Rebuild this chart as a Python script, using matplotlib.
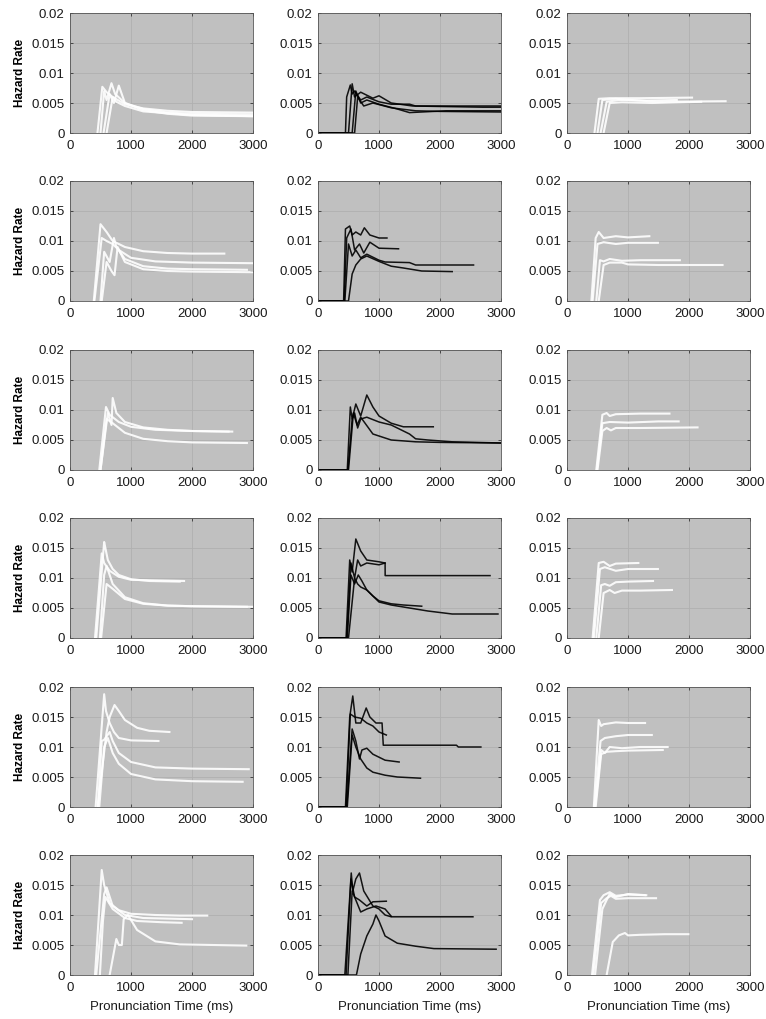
import numpy as np
import matplotlib.pyplot as plt
from matplotlib.ticker import FuncFormatter

plt.rcParams['font.family'] = ['Liberation Sans', 'DejaVu Sans']

# Each panel: list of curves (x in ms, hazard rate)
r1c1 = [
    ([450, 530, 600, 700, 900, 1200, 1600, 2000, 3000], [0, 0.0077, 0.0068, 0.0060, 0.0048, 0.0041, 0.0037, 0.0035, 0.0034]),
    ([500, 560, 600, 680, 740, 900, 1200, 1600, 2000, 3000], [0, 0.0070, 0.0055, 0.0083, 0.0065, 0.0050, 0.0040, 0.0034, 0.0032, 0.0031]),
    ([550, 650, 720, 800, 900, 1200, 1600, 2000, 3000], [0, 0.0065, 0.0050, 0.0079, 0.0050, 0.0038, 0.0032, 0.0029, 0.0028]),
    ([600, 700, 760, 900, 1200, 2000, 3000], [0, 0.0060, 0.0052, 0.0045, 0.0036, 0.0030, 0.0028]),
]
r1c2 = [
    ([0, 450, 470, 530, 560, 600, 700, 800, 1000, 1200, 1500, 1600, 2200, 3000], [0, 0, 0.006, 0.008, 0.0065, 0.0070, 0.0055, 0.0060, 0.0052, 0.0048, 0.0048, 0.0045, 0.0045, 0.0045]),
    ([0, 500, 560, 600, 700, 900, 1000, 1200, 1550, 2700, 3000], [0, 0, 0.0082, 0.0060, 0.0068, 0.0058, 0.0062, 0.0050, 0.0045, 0.0043, 0.0043]),
    ([0, 560, 620, 700, 800, 1000, 1300, 1500, 2100, 3000], [0, 0, 0.0070, 0.0050, 0.0055, 0.0048, 0.0040, 0.0034, 0.0037, 0.0037]),
    ([0, 600, 650, 750, 900, 1200, 1600, 2000, 3000], [0, 0, 0.0060, 0.0045, 0.0050, 0.0042, 0.0037, 0.0036, 0.0035]),
]
r1c3 = [
    ([450, 520, 700, 1200, 2050], [0, 0.0057, 0.0058, 0.0058, 0.0059]),
    ([500, 580, 800, 1200, 1500, 2600], [0, 0.0055, 0.0057, 0.0054, 0.0052, 0.0053]),
    ([550, 650, 850, 1300, 1800], [0, 0.0052, 0.0055, 0.0054, 0.0055]),
    ([600, 700, 900, 1400, 2200], [0, 0.0050, 0.0051, 0.0050, 0.0052]),
]
r2c1 = [
    ([390, 500, 600, 700, 900, 1200, 1600, 2000, 2530], [0, 0.0128, 0.0115, 0.0100, 0.0090, 0.0083, 0.0080, 0.0079, 0.0079]),
    ([400, 520, 600, 700, 800, 1000, 1400, 2000, 3000], [0, 0.0105, 0.0100, 0.0095, 0.0085, 0.0072, 0.0066, 0.0064, 0.0063]),
    ([500, 560, 650, 720, 760, 900, 1200, 1600, 2000, 2900], [0, 0.0082, 0.0065, 0.0105, 0.0090, 0.0070, 0.0058, 0.0054, 0.0053, 0.0052]),
    ([520, 600, 680, 730, 780, 900, 1200, 1600, 2000, 3000], [0, 0.0065, 0.0050, 0.0043, 0.0090, 0.0065, 0.0053, 0.0050, 0.0049, 0.0048]),
]
r2c2 = [
    ([0, 420, 450, 520, 560, 620, 700, 760, 850, 1000, 1130], [0, 0, 0.012, 0.0125, 0.011, 0.0115, 0.011, 0.0122, 0.011, 0.0105, 0.0105]),
    ([0, 430, 470, 540, 600, 680, 750, 850, 1000, 1320], [0, 0, 0.0105, 0.012, 0.0085, 0.0095, 0.008, 0.0098, 0.0088, 0.0087]),
    ([0, 440, 500, 560, 620, 700, 800, 1000, 1100, 1500, 1600, 2550], [0, 0, 0.0095, 0.0075, 0.0085, 0.0072, 0.0078, 0.0068, 0.0065, 0.0064, 0.0060, 0.0060]),
    ([0, 500, 560, 620, 700, 800, 1000, 1200, 1400, 1700, 2200], [0, 0, 0.0045, 0.0060, 0.0070, 0.0075, 0.0066, 0.0058, 0.0055, 0.0050, 0.0049]),
]
r2c3 = [
    ([400, 470, 520, 600, 800, 1000, 1350], [0, 0.0105, 0.0115, 0.0105, 0.0108, 0.0106, 0.0108]),
    ([420, 500, 600, 800, 1000, 1490], [0, 0.0095, 0.0098, 0.0095, 0.0097, 0.0097]),
    ([480, 540, 600, 700, 900, 1200, 1850], [0, 0.0068, 0.0066, 0.0070, 0.0067, 0.0068, 0.0068]),
    ([520, 600, 700, 900, 1000, 1500, 2550], [0, 0.0060, 0.0064, 0.0064, 0.0061, 0.0060, 0.0060]),
]
r3c1 = [
    ([480, 590, 650, 800, 1000, 1400, 2000, 2660], [0, 0.0105, 0.0092, 0.0080, 0.0072, 0.0067, 0.0065, 0.0064]),
    ([500, 620, 680, 700, 760, 900, 1200, 1600, 2000, 2600], [0, 0.0095, 0.0075, 0.0120, 0.0095, 0.0080, 0.0071, 0.0067, 0.0065, 0.0064]),
    ([500, 600, 700, 900, 1200, 1600, 2000, 2900], [0, 0.0085, 0.0078, 0.0062, 0.0052, 0.0048, 0.0046, 0.0045]),
]
r3c2 = [
    ([0, 480, 530, 560, 620, 700, 800, 900, 1000, 1200, 1400, 1890], [0, 0, 0.0105, 0.0085, 0.011, 0.0090, 0.0125, 0.0105, 0.0090, 0.0078, 0.0072, 0.0072]),
    ([0, 490, 560, 600, 650, 700, 800, 1000, 1200, 1500, 1600, 1800, 2200, 3000], [0, 0, 0.0085, 0.0095, 0.0070, 0.0085, 0.0088, 0.0080, 0.0075, 0.0060, 0.0052, 0.0050, 0.0047, 0.0045]),
    ([0, 500, 580, 640, 700, 900, 1200, 1600, 2000, 3000], [0, 0, 0.0095, 0.0075, 0.0088, 0.0060, 0.0050, 0.0047, 0.0046, 0.0045]),
]
r3c3 = [
    ([480, 580, 650, 700, 800, 1200, 1680], [0, 0.0092, 0.0095, 0.0090, 0.0093, 0.0094, 0.0094]),
    ([490, 580, 700, 1000, 1500, 1830], [0, 0.0078, 0.0080, 0.0079, 0.0081, 0.0081]),
    ([500, 580, 650, 720, 800, 1200, 2140], [0, 0.0065, 0.0070, 0.0066, 0.0070, 0.0070, 0.0071]),
]
r4c1 = [
    ([410, 520, 560, 650, 800, 1000, 1400, 1870], [0, 0.0141, 0.0125, 0.0112, 0.0102, 0.0097, 0.0096, 0.0095]),
    ([430, 560, 580, 620, 700, 800, 1000, 1300, 1800], [0, 0.0160, 0.0150, 0.0130, 0.0115, 0.0105, 0.0098, 0.0095, 0.0094]),
    ([490, 560, 600, 700, 900, 1200, 1600, 2000, 3000], [0, 0.0105, 0.0120, 0.0090, 0.0068, 0.0058, 0.0054, 0.0053, 0.0052]),
    ([510, 600, 700, 900, 1200, 1600, 2000, 2900], [0, 0.0090, 0.0082, 0.0065, 0.0057, 0.0054, 0.0053, 0.0052]),
]
r4c2 = [
    ([0, 460, 520, 560, 620, 700, 800, 1000, 1100, 1101, 2820], [0, 0, 0.0130, 0.0110, 0.0165, 0.0145, 0.0130, 0.0127, 0.0125, 0.0104, 0.0104]),
    ([0, 470, 540, 600, 650, 700, 800, 1000, 1100], [0, 0, 0.0125, 0.0100, 0.0130, 0.0120, 0.0125, 0.0122, 0.0125]),
    ([0, 480, 540, 600, 660, 720, 800, 900, 1000, 1200, 1400, 1700], [0, 0, 0.0105, 0.0090, 0.0105, 0.0095, 0.0080, 0.0070, 0.0062, 0.0057, 0.0055, 0.0053]),
    ([0, 500, 600, 650, 700, 800, 900, 1000, 1200, 1500, 1800, 2200, 2950], [0, 0, 0.0100, 0.0090, 0.0085, 0.0080, 0.0070, 0.0060, 0.0055, 0.0050, 0.0045, 0.0040, 0.0040]),
]
r4c3 = [
    ([420, 520, 600, 700, 800, 1170], [0, 0.0125, 0.0127, 0.0120, 0.0124, 0.0125]),
    ([440, 540, 620, 800, 1000, 1490], [0, 0.0115, 0.0118, 0.0112, 0.0115, 0.0115]),
    ([480, 560, 620, 700, 800, 1000, 1410], [0, 0.0088, 0.0090, 0.0087, 0.0093, 0.0094, 0.0095]),
    ([520, 600, 700, 780, 900, 1200, 1720], [0, 0.0075, 0.0080, 0.0075, 0.0079, 0.0079, 0.0080]),
]
r5c1 = [
    ([420, 560, 590, 650, 720, 800, 1000, 1450], [0, 0.0188, 0.0160, 0.0140, 0.0125, 0.0115, 0.0111, 0.0110]),
    ([450, 600, 650, 730, 800, 900, 1100, 1300, 1630], [0, 0.0125, 0.0150, 0.0170, 0.0160, 0.0145, 0.0132, 0.0127, 0.0125]),
    ([460, 520, 560, 650, 700, 800, 1000, 1400, 2000, 2930], [0, 0.0110, 0.0112, 0.0125, 0.0110, 0.0090, 0.0075, 0.0066, 0.0064, 0.0063]),
    ([480, 560, 620, 700, 800, 1000, 1400, 2000, 2830], [0, 0.0100, 0.0115, 0.0090, 0.0072, 0.0055, 0.0046, 0.0043, 0.0042]),
]
r5c2 = [
    ([0, 450, 520, 570, 620, 700, 790, 850, 950, 1050, 1070, 2270, 2300, 2670], [0, 0, 0.0150, 0.0185, 0.0140, 0.0140, 0.0165, 0.0150, 0.0140, 0.0140, 0.0103, 0.0103, 0.0100, 0.0100]),
    ([0, 460, 530, 600, 700, 800, 900, 1000, 1120], [0, 0, 0.0155, 0.0150, 0.0148, 0.0140, 0.0135, 0.0125, 0.0120]),
    ([0, 470, 560, 620, 680, 720, 800, 900, 1100, 1330], [0, 0, 0.0130, 0.0110, 0.0080, 0.0095, 0.0098, 0.0088, 0.0078, 0.0075]),
    ([0, 480, 560, 620, 700, 800, 900, 1100, 1300, 1680], [0, 0, 0.0120, 0.0100, 0.0080, 0.0065, 0.0058, 0.0053, 0.0050, 0.0048]),
]
r5c3 = [
    ([440, 520, 560, 600, 800, 1000, 1280], [0, 0.0145, 0.0135, 0.0138, 0.0141, 0.0140, 0.0140]),
    ([450, 550, 620, 800, 1000, 1390], [0, 0.0110, 0.0115, 0.0118, 0.0120, 0.0120]),
    ([460, 560, 620, 700, 900, 1200, 1650], [0, 0.0095, 0.0090, 0.0100, 0.0098, 0.0100, 0.0100]),
    ([470, 560, 650, 800, 1000, 1570], [0, 0.0088, 0.0092, 0.0093, 0.0094, 0.0095]),
]
r6c1 = [
    ([410, 520, 560, 650, 800, 1000, 1400, 1800, 2250], [0, 0.0175, 0.0150, 0.0120, 0.0108, 0.0102, 0.0100, 0.0099, 0.0099]),
    ([430, 560, 600, 700, 900, 1200, 1600, 2000], [0, 0.0135, 0.0146, 0.0115, 0.0100, 0.0095, 0.0094, 0.0093]),
    ([490, 540, 580, 700, 900, 1100, 1500, 1830], [0, 0.0090, 0.0130, 0.0110, 0.0095, 0.0090, 0.0088, 0.0087]),
    ([650, 760, 800, 850, 880, 950, 1100, 1400, 1800, 2890], [0, 0.0060, 0.0050, 0.0050, 0.0093, 0.0100, 0.0075, 0.0056, 0.0051, 0.0049]),
]
r6c2 = [
    ([0, 440, 545, 570, 620, 680, 750, 900, 1000, 1100, 1200, 2540], [0, 0, 0.0170, 0.0140, 0.0160, 0.0170, 0.0140, 0.0115, 0.0110, 0.0100, 0.0097, 0.0097]),
    ([0, 460, 540, 600, 680, 800, 900, 1120], [0, 0, 0.0160, 0.0130, 0.0125, 0.0115, 0.0122, 0.0123]),
    ([0, 490, 560, 640, 700, 800, 950, 1100, 1200], [0, 0, 0.0140, 0.0120, 0.0105, 0.0110, 0.0115, 0.0110, 0.0098]),
    ([0, 630, 700, 800, 900, 950, 1000, 1100, 1300, 1600, 1900, 2920], [0, 0, 0.0035, 0.0065, 0.0085, 0.0100, 0.0090, 0.0065, 0.0053, 0.0048, 0.0044, 0.0043]),
]
r6c3 = [
    ([410, 540, 600, 700, 800, 1000, 1280], [0, 0.0125, 0.0133, 0.0138, 0.0132, 0.0134, 0.0133]),
    ([430, 560, 650, 720, 800, 1000, 1460], [0, 0.0120, 0.0128, 0.0132, 0.0127, 0.0128, 0.0128]),
    ([460, 580, 650, 700, 800, 1000, 1300], [0, 0.0110, 0.0125, 0.0135, 0.0130, 0.0135, 0.0133]),
    ([650, 750, 850, 950, 1000, 1200, 1600, 1990], [0, 0.0055, 0.0066, 0.0070, 0.0066, 0.0067, 0.0068, 0.0068]),
]

panels = [
    [r1c1, r1c2, r1c3],
    [r2c1, r2c2, r2c3],
    [r3c1, r3c2, r3c3],
    [r4c1, r4c2, r4c3],
    [r5c1, r5c2, r5c3],
    [r6c1, r6c2, r6c3],
]
x_ticks = [0, 1000, 2000, 3000]
y_ticks = [0, 0.005, 0.01, 0.015, 0.02]

fig = plt.figure(figsize=(7.66, 10.19), dpi=100)
W, H = 766, 1019
col_left = [70, 318, 567]
row_top = [13, 181, 350, 518, 687, 855]
aw, ah = 183, 120

for i, row in enumerate(panels):
    for j, curves in enumerate(row):
        ax = fig.add_axes([col_left[j] / W, 1 - (row_top[i] + ah) / H, aw / W, ah / H])
        ax.set_facecolor('#c0c0c0')
        color = 'black' if j == 1 else 'white'
        lw = 1.1 if j == 1 else 1.5
        for xs, ys in curves:
            ax.plot(xs, ys, color=color, lw=lw, alpha=0.9)
        ax.set_xlim(0, 3000)
        ax.set_ylim(0, 0.02)
        ax.set_xticks(x_ticks)
        ax.set_yticks(y_ticks)
        ax.yaxis.set_major_formatter(FuncFormatter(lambda v, p: '%g' % v))
        ax.grid(True, color='#b0b0b0', lw=0.6)
        ax.set_axisbelow(True)
        ax.tick_params(direction='in', length=2, width=0.5, top=True, right=True,
                       labelsize=9.5, colors='#1a1a1a')
        ax.tick_params(axis='x', pad=5)
        ax.tick_params(axis='y', pad=4)
        for s in ax.spines.values():
            s.set_linewidth(0.6)
            s.set_color('#555555')
        if j == 0:
            ax.set_ylabel('Hazard Rate', fontsize=8.5, fontweight='bold', labelpad=4)
        if i == 5:
            ax.set_xlabel('Pronunciation Time (ms)', fontsize=9.5, color='#1a1a1a', labelpad=5)

fig.savefig('out.png', dpi=100)
